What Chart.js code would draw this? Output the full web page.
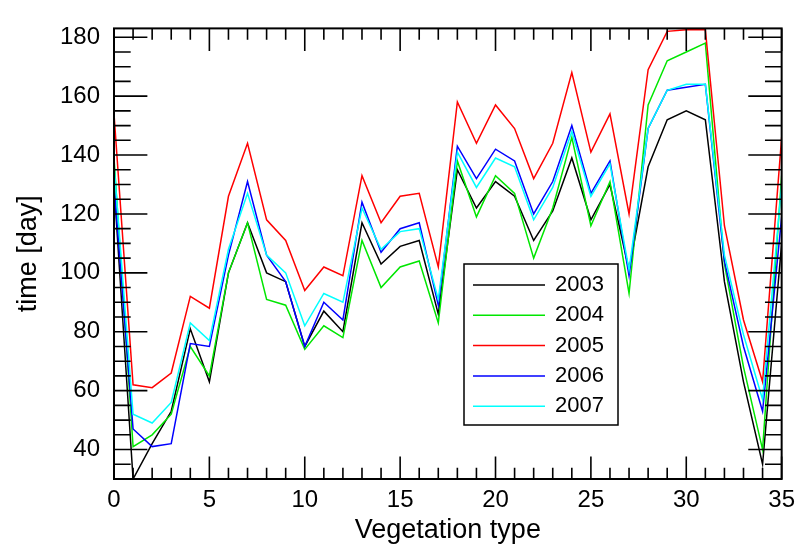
<!DOCTYPE html>
<html>
<head>
<meta charset="utf-8">
<script src="https://cdn.jsdelivr.net/npm/chart.js@4.4.1/dist/chart.umd.min.js"></script>
<style>
  html, body { margin: 0; padding: 0; background: #fff; }
</style>
</head>
<body>
<canvas id="chart" width="802" height="554"></canvas>
<script>
// tipo de vegetação (eixo x)
var tipos = [0,1,2,3,4,5,6,7,8,9,10,11,12,13,14,15,16,17,18,19,20,21,22,23,24,25,26,27,28,29,30,31,32,33,34,35];

// tempo [dia] por ano
var t2003 = [130,30,42,53,81,63,100,117,100,97,75,87,80,117,103,109,111,86,135,122,131,126,111,121,139,118,130,101,136,152,155,152,97,63,35,110];
var t2004 = [139,41,45,52,75,65,100,117,91,89,74,82,78,111,95,102,104,83,138,119,133,127,105,122,146,116,131,93,157,172,175,178,103,68,40,133];
var t2005 = [154,62,61,66,92,88,126,144,118,111,94,102,99,133,117,126,127,102,158,144,157,149,132,144,168,141,154,120,169,182,182.5,182.5,116,84,63,146];
var t2006 = [130,47,41,42,76,75,106,131,106,97,75,90,84,124,107,115,117,89,143,132,142,138,120,131,150,127,138,99,149,162,163,164,104,75,53,119];
var t2007 = [137,52,49,56,83,77,108,127,106,100,82,93,90,122,108,114,115,91,141,129,139,136,118,129,148,126,137,101,149,162,164,164,106,79,57,130];

var anos = ['2003','2004','2005','2006','2007'];
var cores = ['#000000','#00e600','#ff0000','#0000ff','#00ffff'];
var series = [t2003, t2004, t2005, t2006, t2007];

var ticksX = [0,5,10,15,20,25,30,35];
var ticksY = [40,60,80,100,120,140,160,180];
var limX = [0, 35];
var limY = [30, 183];

var fonte = "'Liberation Sans', Arial, Helvetica, sans-serif";

// moldura com marcas internas nos quatro lados
const moldura = {
  id: 'moldura',
  afterDatasetsDraw(chart) {
    const ctx = chart.ctx;
    const a = chart.chartArea;
    const sx = chart.scales.x, sy = chart.scales.y;
    const w = a.right - a.left, h = a.bottom - a.top;
    ctx.save();
    ctx.strokeStyle = '#000';
    ctx.lineWidth = 1.6;
    ctx.beginPath();
    for (let v = limX[0]; v <= limX[1]; v++) {
      const px = sx.getPixelForValue(v);
      const len = (ticksX.indexOf(v) >= 0 ? 0.05 : 0.025) * h;
      ctx.moveTo(px, a.bottom); ctx.lineTo(px, a.bottom - len);
      ctx.moveTo(px, a.top); ctx.lineTo(px, a.top + len);
    }
    for (let v = 35; v <= 180; v += 5) {
      const py = sy.getPixelForValue(v);
      const len = (ticksY.indexOf(v) >= 0 ? 0.05 : 0.025) * w;
      ctx.moveTo(a.left, py); ctx.lineTo(a.left + len, py);
      ctx.moveTo(a.right, py); ctx.lineTo(a.right - len, py);
    }
    ctx.stroke();
    ctx.lineWidth = 2;
    ctx.strokeRect(a.left, a.top, w, h);
    ctx.restore();
  }
};

// legenda desenhada dentro do gráfico
const legenda = {
  id: 'legenda',
  afterDraw(chart) {
    const ctx = chart.ctx;
    const bx = 464, by = 264, bw = 154, bh = 161;
    ctx.save();
    ctx.fillStyle = '#fff';
    ctx.fillRect(bx, by, bw, bh);
    ctx.strokeStyle = '#000';
    ctx.lineWidth = 1.5;
    ctx.strokeRect(bx, by, bw, bh);
    ctx.font = '22px ' + fonte;
    ctx.textBaseline = 'middle';
    chart.data.datasets.forEach(function(ds, i) {
      const y = by + 21 + i * 30.3;
      ctx.strokeStyle = ds.borderColor;
      ctx.lineWidth = 1.5;
      ctx.beginPath();
      ctx.moveTo(bx + 9, y);
      ctx.lineTo(bx + 81, y);
      ctx.stroke();
      ctx.fillStyle = '#000';
      ctx.fillText(ds.label, bx + 91, y);
    });
    ctx.restore();
  }
};

// 2003 desenhado primeiro, 2007 por cima
const datasets = anos.map(function(ano, i) {
  return {
    label: ano,
    data: tipos.map(function(t, j) { return {x: t, y: series[i][j]}; }),
    borderColor: cores[i],
    borderWidth: 1.5,
    pointRadius: 0,
    tension: 0,
    fill: false,
    order: anos.length - i
  };
});

myChart = new Chart(document.getElementById('chart'), {
  type: 'line',
  data: { datasets: datasets },
  plugins: [moldura, legenda],
  options: {
    responsive: false,
    animation: false,
    layout: { padding: { top: 10, right: 15, left: 0, bottom: 0 } },
    plugins: { legend: { display: false }, tooltip: { enabled: false } },
    scales: {
      x: {
        type: 'linear',
        min: limX[0],
        max: limX[1],
        grid: { display: false, drawTicks: false },
        border: { display: false },
        afterBuildTicks: function(s) { s.ticks = ticksX.map(function(v) { return {value: v}; }); },
        afterFit: function(s) { s.height = 75; },
        ticks: { color: '#000', font: { family: fonte, size: 24 }, padding: 7, maxRotation: 0, autoSkip: false },
        title: { display: true, text: 'Vegetation type', color: '#000', font: { family: fonte, size: 27 }, padding: { top: 0, bottom: 7 } }
      },
      y: {
        type: 'linear',
        min: limY[0],
        max: limY[1],
        grid: { display: false, drawTicks: false },
        border: { display: false },
        afterBuildTicks: function(s) { s.ticks = ticksY.map(function(v) { return {value: v}; }); },
        afterFit: function(s) { s.width = 114; },
        ticks: { color: '#000', font: { family: fonte, size: 24 }, padding: 14 },
        title: { display: true, text: 'time [day]', color: '#000', font: { family: fonte, size: 27 }, padding: { top: 12, bottom: 0 } }
      }
    }
  }
});
</script>
</body>
</html>
